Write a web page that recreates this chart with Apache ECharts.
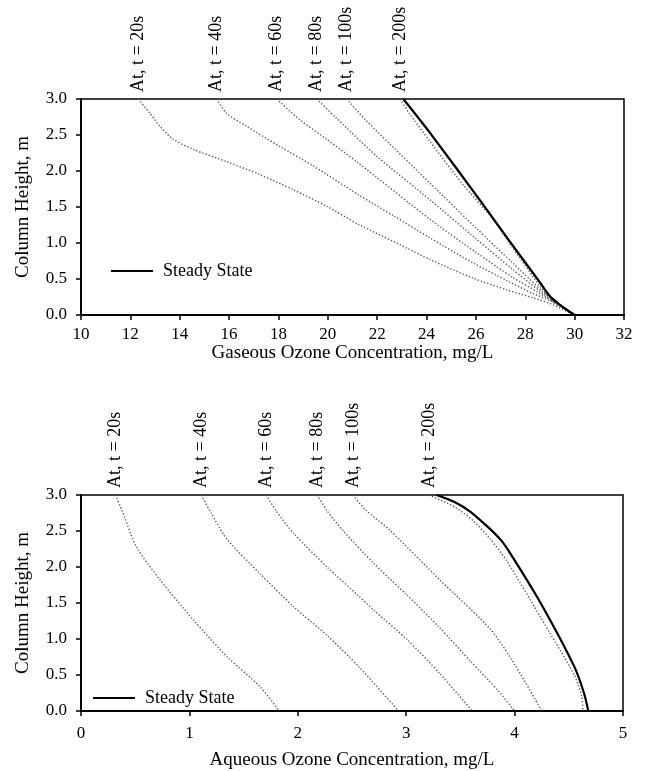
<!DOCTYPE html>
<html><head><meta charset="utf-8">
<script src="https://cdn.jsdelivr.net/npm/echarts@6/dist/echarts.min.js"></script>
<style>html,body{margin:0;padding:0;background:#fff}#c{width:645px;height:771px}</style>
</head><body><div id="c"></div>
<script>
// ---------- data ----------
const timeLabels = ['At, t = 20s','At, t = 40s','At, t = 60s','At, t = 80s','At, t = 100s','At, t = 200s'];
const legendName = 'Steady State';

// Gaseous ozone concentration (mg/L) vs column height (m)
const gasT20  = [[12.32,3.0],[12.8,2.8],[13.2,2.62],[13.74,2.44],[14.55,2.3],[15.9,2.13],[17.25,1.95],[18.6,1.74],[19.96,1.51],[21.24,1.26],[23.2,0.93],[24.14,0.77],[25.9,0.51],[27.25,0.35],[28.3,0.24],[29.0,0.16],[30,0]];
const gasT40  = [[15.5,3.0],[15.9,2.8],[16.71,2.62],[18.06,2.34],[19.41,2.07],[21.24,1.67],[22.7,1.37],[24.14,1.07],[25.9,0.72],[27.3,0.47],[28.3,0.3],[29.0,0.2],[30,0]];
const gasT60  = [[17.93,3.0],[18.87,2.71],[19.96,2.44],[21.24,2.11],[24.14,1.33],[26.0,0.87],[27.5,0.52],[28.5,0.32],[29.1,0.19],[30,0]];
const gasT80  = [[19.55,3.0],[20.3,2.75],[22.0,2.2],[24.14,1.6],[26.0,1.06],[27.5,0.63],[28.6,0.33],[29.1,0.2],[30,0]];
const gasT100 = [[20.76,3.0],[21.5,2.72],[22.5,2.38],[24.14,1.83],[26.0,1.21],[27.5,0.72],[28.7,0.33],[29.2,0.2],[30,0]];
const gasT200 = [[22.93,3.0],[23.3,2.8],[24.14,2.41],[25.5,1.8],[26.6,1.37],[27.5,0.93],[28.6,0.4],[29.0,0.24],[30,0]];
const gasSteady = [[23.06,3.0],[24.14,2.53],[26.3,1.53],[27.31,1.05],[28.6,0.45],[29.0,0.26],[29.3,0.17],[29.6,0.09],[30,0]];

// Aqueous ozone concentration (mg/L) vs column height (m)
const aqT20  = [[0.32,3.0],[0.4,2.7],[0.51,2.28],[0.73,1.82],[1.04,1.26],[1.35,0.75],[1.65,0.34],[1.83,0]];
const aqT40  = [[1.11,3.0],[1.2,2.75],[1.35,2.38],[1.65,1.91],[1.96,1.45],[2.27,1.05],[2.56,0.62],[2.93,0]];
const aqT60  = [[1.71,3.0],[1.8,2.78],[1.96,2.47],[2.27,2.0],[2.56,1.6],[2.7,1.4],[3.01,0.99],[3.31,0.52],[3.61,0]];
const aqT80  = [[2.18,3.0],[2.27,2.78],[2.42,2.5],[2.7,2.05],[3.0,1.62],[3.3,1.17],[3.6,0.68],[3.85,0.28],[4.0,0]];
const aqT100 = [[2.51,3.0],[2.62,2.8],[2.85,2.51],[3.31,1.82],[3.78,1.13],[4.02,0.6],[4.25,0]];
const aqT200 = [[3.21,3.0],[3.45,2.83],[3.62,2.64],[3.78,2.38],[3.93,2.08],[4.24,1.3],[4.55,0.5],[4.62,0.2],[4.63,0]];
const aqSteady = [[3.28,3.0],[3.45,2.9],[3.59,2.77],[3.75,2.56],[3.87,2.38],[3.96,2.19],[4.24,1.5],[4.55,0.62],[4.64,0.25],[4.68,0]];

// axes
const gasX = {min:10, max:32, step:2, name:'Gaseous Ozone Concentration, mg/L'};
const aqX  = {min:0, max:5, step:1, name:'Aqueous Ozone Concentration, mg/L'};
const heightY = {min:0, max:3, step:0.5, name:'Column Height, m'};

// ---------- chart ----------
const F = "'Liberation Serif','Times New Roman',serif";
const chart = echarts.init(document.getElementById('c'), null, {renderer:'canvas'});

function dotted(data, label, idx){
  return {
    type:'line', name: label, xAxisIndex: idx, yAxisIndex: idx, silent:true,
    data: data.map((p,i)=> i===0 ? {value:p, label:{show:true, formatter:label, position:'top', rotate:90,
      align:'left', verticalAlign:'middle', distance:7, color:'#000', fontFamily:F, fontSize:18}} : p),
    symbol:'circle', symbolSize:0, showSymbol:true,
    lineStyle:{type:[1.3,2], width:1.4, color:'#555'}, smooth:0.25, z:2
  };
}
function steady(data, idx){
  return {type:'line', name:legendName, xAxisIndex:idx, yAxisIndex:idx, silent:true, data,
    symbol:'none', lineStyle:{type:'solid', width:2.2, color:'#000'}, itemStyle:{color:'#000'}, smooth:0.25, z:3};
}
function xAxis(cfg, idx, margin, gap){
  return {gridIndex:idx, type:'value', min:cfg.min, max:cfg.max, interval:cfg.step,
    name:cfg.name, nameLocation:'middle', nameGap:gap,
    nameTextStyle:{fontFamily:F, fontSize:19, color:'#000'},
    axisLine:{show:true, onZero:false, lineStyle:{color:'#000', width:2}},
    axisTick:{show:true, inside:false, length:5, lineStyle:{color:'#000', width:1.5}},
    axisLabel:{fontFamily:F, fontSize:17, color:'#000', margin:margin},
    splitLine:{show:false}};
}
function yAxis(cfg, idx){
  return {gridIndex:idx, type:'value', min:cfg.min, max:cfg.max, interval:cfg.step,
    name:cfg.name, nameLocation:'middle', nameGap:48,
    nameTextStyle:{fontFamily:F, fontSize:19, color:'#000'},
    axisLine:{show:true, onZero:false, lineStyle:{color:'#000', width:2}},
    axisTick:{show:true, inside:false, length:5, lineStyle:{color:'#000', width:1.5}},
    axisLabel:{fontFamily:F, fontSize:17, color:'#000', margin:14, formatter:v=>v.toFixed(1)},
    splitLine:{show:false}};
}

const gasSeries = [gasT20, gasT40, gasT60, gasT80, gasT100, gasT200];
const aqSeries  = [aqT20, aqT40, aqT60, aqT80, aqT100, aqT200];

chart.setOption({
  animation:false,
  backgroundColor:'#fff',
  grid:[
    {left:81, right:21, top:99, height:216, show:true, borderColor:'#000', borderWidth:1.5, backgroundColor:'transparent'},
    {left:81, right:22, top:495, height:216, show:true, borderColor:'#000', borderWidth:1.5, backgroundColor:'transparent'}
  ],
  legend:[
    {data:[legendName], left:111, top:262, padding:0, icon:'rect', itemWidth:42, itemHeight:2, itemGap:10,
     textStyle:{fontFamily:F, fontSize:18, color:'#000', padding:[0,0,0,5]}, selectedMode:false},
    {data:[legendName], left:93, top:689, padding:0, icon:'rect', itemWidth:42, itemHeight:2, itemGap:10,
     textStyle:{fontFamily:F, fontSize:18, color:'#000', padding:[0,0,0,5]}, selectedMode:false}
  ],
  xAxis:[xAxis(gasX,0,11,29), xAxis(aqX,1,14,40)],
  yAxis:[yAxis(heightY,0), yAxis(heightY,1)],
  series:[
    ...gasSeries.map((d,i)=>dotted(d, timeLabels[i], 0)),
    steady(gasSteady, 0),
    ...aqSeries.map((d,i)=>dotted(d, timeLabels[i], 1)),
    steady(aqSteady, 1)
  ]
});
</script></body></html>
